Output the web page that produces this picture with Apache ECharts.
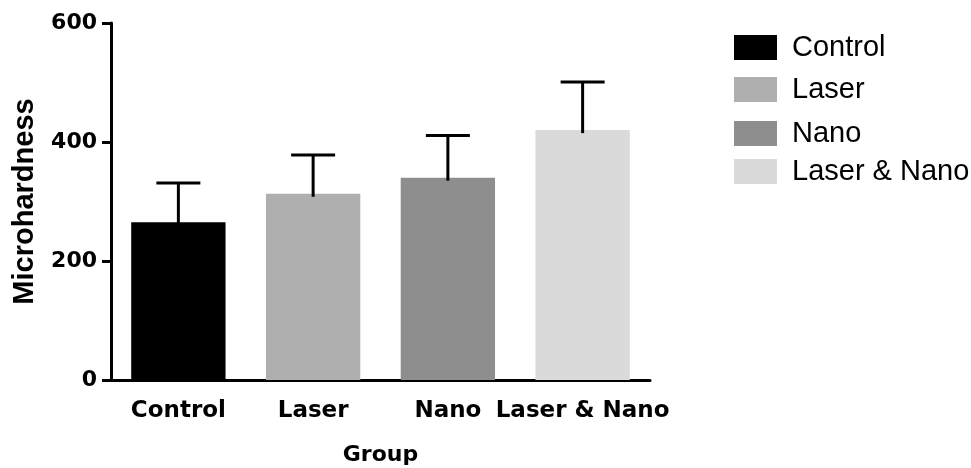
<!DOCTYPE html>
<html>
<head>
<meta charset="utf-8">
<title>Microhardness by group</title>
<script src="https://cdn.jsdelivr.net/npm/echarts@6/dist/echarts.min.js"></script>
<style>
  html, body { margin: 0; padding: 0; background: #ffffff; }
  #chart { width: 971px; height: 468px; }
</style>
</head>
<body>
<div id="chart"></div>
<script>
// Mean microhardness per group with its standard deviation (upper whisker)
const categories = ['Control', 'Laser', 'Nano', 'Laser & Nano'];
const means = [265, 313, 340, 420];
const deviations = [66, 65, 71, 81];
const barColors = ['#000000', '#afafaf', '#8e8e8e', '#dadada'];
const yTicks = [0, 200, 400, 600];

const chart = echarts.init(document.getElementById('chart'), null, { renderer: 'canvas' });

// One stacked series per group so that each group gets its own legend entry
const barSeries = categories.map((name, i) => ({
  name: name,
  type: 'bar',
  stack: 'groups',
  barCategoryGap: '30%',
  itemStyle: { color: barColors[i] },
  data: categories.map((c, j) => (j === i ? means[i] : '-')),
  z: 2
}));

// Whiskers: a vertical line from the mean up to mean + SD, capped with a short bar
const errorSeries = {
  type: 'custom',
  name: 'sd',
  data: categories.map((c, i) => [i, means[i], means[i] + deviations[i]]),
  renderItem: function (params, api) {
    const base = api.coord([api.value(0), api.value(1)]);
    const top = api.coord([api.value(0), api.value(2)]);
    const capHalf = 22;
    const style = { stroke: '#000000', lineWidth: 3 };
    return {
      type: 'group',
      children: [
        { type: 'line', shape: { x1: base[0], y1: base[1] + 3, x2: top[0], y2: top[1] }, style: style },
        { type: 'line', shape: { x1: top[0] - capHalf, y1: top[1], x2: top[0] + capHalf, y2: top[1] }, style: style }
      ]
    };
  },
  z: 3,
  silent: true
};

const legendTops = [28, 70, 114, 152];
const legends = categories.map((name, i) => ({
  data: [name],
  left: 729,
  top: legendTops[i],
  orient: 'vertical',
  itemWidth: 43,
  itemHeight: 25,
  itemGap: 0,
  icon: 'rect',
  selectedMode: false,
  textStyle: {
    fontFamily: 'Liberation Sans',
    fontSize: 29,
    color: '#000000',
    padding: [0, 0, 0, 10]
  }
}));

const option = {
  animation: false,
  backgroundColor: '#ffffff',
  legend: legends,
  grid: { left: 111, right: 321, top: 23, bottom: 88, containLabel: false, outerBoundsMode: 'none' },
  xAxis: {
    type: 'category',
    data: categories,
    name: 'Group',
    nameLocation: 'middle',
    nameGap: 64,
    nameTextStyle: { fontFamily: 'DejaVu Sans', fontWeight: 'bold', fontSize: 22, color: '#000000' },
    axisLine: { lineStyle: { color: '#000000', width: 3 } },
    axisTick: { alignWithLabel: true, length: 9, lineStyle: { color: '#000000', width: 3 } },
    axisLabel: {
      interval: 0,
      margin: 20,
      fontFamily: 'DejaVu Sans',
      fontWeight: 'bold',
      fontSize: 23,
      color: '#000000'
    },
    splitLine: { show: false }
  },
  yAxis: {
    type: 'value',
    min: yTicks[0],
    max: yTicks[yTicks.length - 1],
    interval: yTicks[1] - yTicks[0],
    name: 'Microhardness',
    nameLocation: 'middle',
    nameGap: 72,
    nameTextStyle: { fontFamily: 'Liberation Sans', fontWeight: 'bold', fontSize: 29, color: '#000000' },
    axisLine: { show: true, lineStyle: { color: '#000000', width: 3 } },
    axisTick: { show: true, length: 9, lineStyle: { color: '#000000', width: 3 } },
    axisLabel: {
      margin: 14,
      fontFamily: 'DejaVu Sans',
      fontWeight: 'bold',
      fontSize: 22,
      color: '#000000'
    },
    splitLine: { show: false }
  },
  series: barSeries.concat([errorSeries])
};

chart.setOption(option);
</script>
</body>
</html>
